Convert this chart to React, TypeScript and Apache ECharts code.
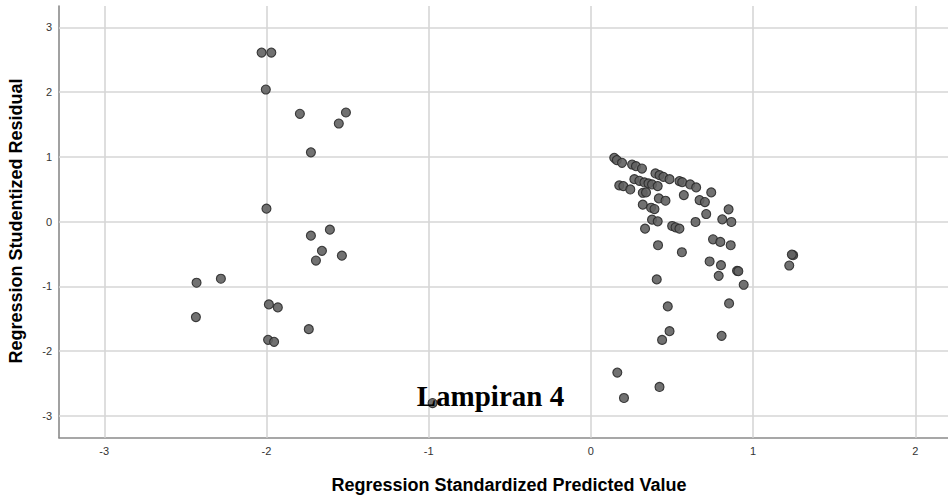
import React, { useEffect, useRef } from "react";
import * as echarts from "echarts";

// Regression Standardized Predicted Value (x) vs Regression Studentized Residual (y)
const leftGroup: [number, number][] = [
  [-2.03, 2.61], [-1.97, 2.61], [-2.004, 2.04], [-1.794, 1.665], [-1.726, 1.07],
  [-1.554, 1.515], [-1.51, 1.685], [-2.0, 0.2], [-1.726, -0.216], [-1.609, -0.124],
  [-1.658, -0.45], [-1.695, -0.6], [-1.535, -0.525], [-2.431, -0.943], [-2.281, -0.881],
  [-2.435, -1.473], [-1.985, -1.278], [-1.93, -1.324], [-1.99, -1.824], [-1.953, -1.855],
  [-1.739, -1.659], [-0.976, -2.8],
];

const rightGroup: [number, number][] = [
  [0.144, 0.985], [0.16, 0.95], [0.192, 0.908], [0.254, 0.882], [0.278, 0.856], [0.315, 0.82],
  [0.398, 0.744], [0.423, 0.718], [0.447, 0.692], [0.485, 0.656], [0.546, 0.626],
  [0.563, 0.61], [0.612, 0.574], [0.649, 0.528], [0.742, 0.451], [0.175, 0.559],
  [0.2, 0.549], [0.243, 0.497], [0.268, 0.656], [0.299, 0.631], [0.33, 0.605],
  [0.355, 0.59], [0.377, 0.574], [0.412, 0.549], [0.32, 0.446], [0.34, 0.451],
  [0.573, 0.41], [0.419, 0.359], [0.46, 0.323], [0.32, 0.262], [0.371, 0.215],
  [0.392, 0.195], [0.67, 0.333], [0.703, 0.303], [0.711, 0.118], [0.849, 0.19],
  [0.81, 0.036], [0.866, -0.005], [0.377, 0.031], [0.412, 0.005], [0.645, -0.005],
  [0.501, -0.067], [0.522, -0.087], [0.546, -0.108], [0.334, -0.108], [0.414, -0.364],
  [0.561, -0.472], [0.753, -0.272], [0.798, -0.313], [0.862, -0.364], [0.732, -0.615],
  [0.802, -0.672], [0.788, -0.836], [0.901, -0.759], [0.909, -0.764], [0.942, -0.974],
  [0.406, -0.892], [1.223, -0.677], [1.247, -0.518], [1.239, -0.508], [0.474, -1.309],
  [0.852, -1.263], [0.485, -1.69], [0.439, -1.825], [0.806, -1.763], [0.163, -2.33],
  [0.423, -2.552], [0.204, -2.722],
];

const xTicks = [-3, -2, -1, 0, 1, 2];
const yTicks = [-3, -2, -1, 0, 1, 2, 3];

const FONT = "Arial, 'Liberation Sans', sans-serif";

export default function App() {
  const ref = useRef<HTMLDivElement>(null);
  useEffect(() => {
    if (!ref.current) return;
    const chart = echarts.init(ref.current, undefined, { renderer: "svg" });
    const gridLine = { color: "#d6d6d6", width: 1.6, type: "solid" as const };
    chart.setOption({
      animation: false,
      backgroundColor: "#ffffff",
      grid: { left: 59, top: 6, right: 0, bottom: 57.3 },
      xAxis: {
        type: "value",
        min: -3.279,
        max: 2.2016,
        axisLine: { show: true, onZero: false, lineStyle: { color: "#8a8a8a", width: 1.6 } },
        axisTick: { show: false },
        splitLine: { show: false },
        axisLabel: {
          customValues: xTicks,
          color: "#333",
          fontSize: 11,
          fontFamily: FONT,
          margin: 8,
          formatter: (v: number) => (Number.isInteger(v) ? String(v) : ""),
        },
      },
      yAxis: {
        type: "value",
        min: -3.335,
        max: 3.329,
        axisLine: { show: true, onZero: false, lineStyle: { color: "#8a8a8a", width: 1.6 } },
        axisTick: { show: false },
        splitLine: { show: false },
        axisLabel: {
          customValues: yTicks,
          color: "#333",
          fontSize: 11,
          fontFamily: FONT,
          margin: 7,
          formatter: (v: number) => (Number.isInteger(v) ? String(v) : ""),
        },
      },
      series: [
        {
          type: "scatter",
          data: [],
          z: 1,
          silent: true,
          markLine: {
            silent: true,
            symbol: ["none", "none"],
            label: { show: false },
            lineStyle: gridLine,
            data: [
              ...xTicks.map((v) => ({ xAxis: v })),
              ...yTicks.map((v) => ({ yAxis: v })),
            ],
          },
        },
        {
          type: "scatter",
          z: 5,
          symbol: "circle",
          symbolSize: 9,
          itemStyle: { color: "#626262", borderColor: "#2a2a2a", borderWidth: 1.1, opacity: 0.9 },
          data: [...leftGroup, ...rightGroup],
        },
      ],
      graphic: [
        {
          type: "text",
          x: 15.5,
          y: 221,
          rotation: Math.PI / 2,
          style: {
            text: "Regression Studentized Residual",
            font: `bold 18px ${FONT}`,
            fill: "#000",
            align: "center",
            verticalAlign: "middle",
          },
        },
        {
          type: "text",
          x: 509,
          y: 485,
          style: {
            text: "Regression Standardized Predicted Value",
            font: `bold 18px ${FONT}`,
            fill: "#000",
            align: "center",
            verticalAlign: "middle",
          },
        },
        {
          type: "text",
          x: 416.7,
          y: 396,
          z: 100,
          style: {
            text: "Lampiran 4",
            font: "bold 29px 'Times New Roman', 'Liberation Serif', serif",
            fill: "#000",
            align: "left",
            verticalAlign: "middle",
          },
        },
      ],
    });
    return () => chart.dispose();
  }, []);
  return (
    <div
      ref={ref}
      style={{ position: "absolute", left: 0, top: 0, width: 948, height: 495 }}
    />
  );
}
